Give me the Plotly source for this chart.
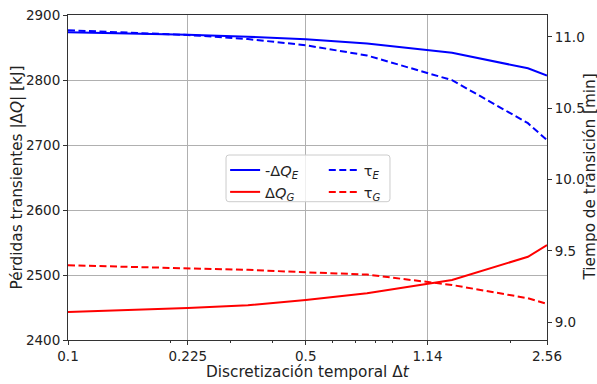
import plotly.graph_objects as go

# Time step values (log axis) and results
dt = [0.1, 0.15, 0.225, 0.338, 0.5, 0.757, 1.346, 2.25, 2.56]
tick_vals = [0.1, 0.225, 0.5, 1.14, 2.56]
tick_text = ["0.1", "0.225", "0.5", "1.14", "2.56"]
minor_vals = [0.2, 0.3, 0.4, 0.6, 0.7, 0.8, 0.9, 2.0]

neg_dQ_E = [2873.4, 2871.5, 2869.7, 2866.5, 2862.6, 2856.0, 2842.0, 2818.0, 2807.0]
dQ_G = [2443.0, 2446.0, 2449.2, 2453.5, 2461.5, 2472.0, 2492.3, 2528.0, 2546.0]
tau_E = [11.047, 11.032, 11.014, 10.985, 10.942, 10.870, 10.697, 10.395, 10.276]
tau_G = [9.398, 9.389, 9.379, 9.366, 9.349, 9.333, 9.260, 9.167, 9.127]

FONT = "DejaVu Sans"
BLUE = "#0000ff"
RED = "#ff0000"
DASH = "7px,3.5px"

fig = go.Figure()
fig.add_trace(go.Scatter(x=dt, y=neg_dQ_E, mode="lines", name="-Δ<i>Q</i><sub><i>E</i></sub>",
                         line=dict(color=BLUE, width=2), legend="legend"))
fig.add_trace(go.Scatter(x=dt, y=dQ_G, mode="lines", name="Δ<i>Q</i><sub><i>G</i></sub>",
                         line=dict(color=RED, width=2), legend="legend"))
fig.add_trace(go.Scatter(x=dt, y=tau_E, mode="lines", name="τ<sub><i>E</i></sub>", yaxis="y2",
                         line=dict(color=BLUE, width=2, dash=DASH), legend="legend2"))
fig.add_trace(go.Scatter(x=dt, y=tau_G, mode="lines", name="τ<sub><i>G</i></sub>", yaxis="y2",
                         line=dict(color=RED, width=2, dash=DASH), legend="legend2"))

axis_common = dict(
    showline=True, linecolor="#333333", linewidth=1,
    ticks="outside", ticklen=4, tickcolor="#333333", tickwidth=1,
    tickfont=dict(family=FONT, size=13.5, color="#222222"),
    zeroline=False, automargin=False,
)

leg_common = dict(
    font=dict(family=FONT, size=14.5, color="#222222"),
    bgcolor="rgba(0,0,0,0)", borderwidth=0,
    yanchor="top", xanchor="left", tracegroupgap=0,
)

TITLE_FONT = dict(family=FONT, size=15.3, color="#222222")

fig.update_layout(
    width=597, height=384,
    margin=dict(l=68, r=50, t=15, b=44),
    plot_bgcolor="white", paper_bgcolor="white",
    font=dict(family=FONT, size=14, color="#222222"),
    xaxis=dict(
        type="log", range=[-1, 0.40824], mirror=True,
        tickvals=tick_vals, ticktext=tick_text,
        showgrid=True, gridcolor="#b0b0b0", gridwidth=1,
        minor=dict(tickvals=minor_vals, ticks="outside", ticklen=2, tickcolor="#333333", showgrid=False),
        **axis_common,
    ),
    yaxis=dict(
        range=[2400, 2900], dtick=100,
        showgrid=True, gridcolor="#b0b0b0", gridwidth=1,
        **axis_common,
    ),
    yaxis2=dict(
        overlaying="y", side="right", range=[8.874, 11.154],
        tickvals=[9.0, 9.5, 10.0, 10.5, 11.0], ticktext=["9.0", "9.5", "10.0", "10.5", "11.0"],
        showgrid=False,
        **axis_common,
    ),
    legend=dict(x=0.328, y=0.572, **leg_common),
    legend2=dict(x=0.534, y=0.572, **leg_common),
)

# Axis titles
fig.add_annotation(text="Discretización temporal Δ<i>t</i>", xref="paper", yref="paper",
                   x=0.5, y=-0.097, xanchor="center", yanchor="middle",
                   showarrow=False, font=TITLE_FONT)
fig.add_annotation(text="Pérdidas transientes |Δ<i>Q</i>| [kJ]", xref="paper", yref="paper",
                   x=-0.1065, y=0.5, xanchor="center", yanchor="middle", textangle=-90,
                   showarrow=False, font=TITLE_FONT)
fig.add_annotation(text="Tiempo de transición [min]", xref="paper", yref="paper",
                   x=1.0877, y=0.5, xanchor="center", yanchor="middle", textangle=-90,
                   showarrow=False, font=TITLE_FONT)

# Semi-transparent rounded frame behind the two legend columns
x0, x1, y0, y1 = 0.3299, 0.6722, 0.4255, 0.5692
rx, ry = 0.006, 0.009
path = (f"M {x0+rx},{y0} L {x1-rx},{y0} Q {x1},{y0} {x1},{y0+ry} "
        f"L {x1},{y1-ry} Q {x1},{y1} {x1-rx},{y1} "
        f"L {x0+rx},{y1} Q {x0},{y1} {x0},{y1-ry} "
        f"L {x0},{y0+ry} Q {x0},{y0} {x0+rx},{y0} Z")
fig.add_shape(type="path", path=path, xref="paper", yref="paper", layer="above",
              fillcolor="rgba(255,255,255,0.8)", line=dict(color="#cccccc", width=1))

fig.write_html("out.html")
